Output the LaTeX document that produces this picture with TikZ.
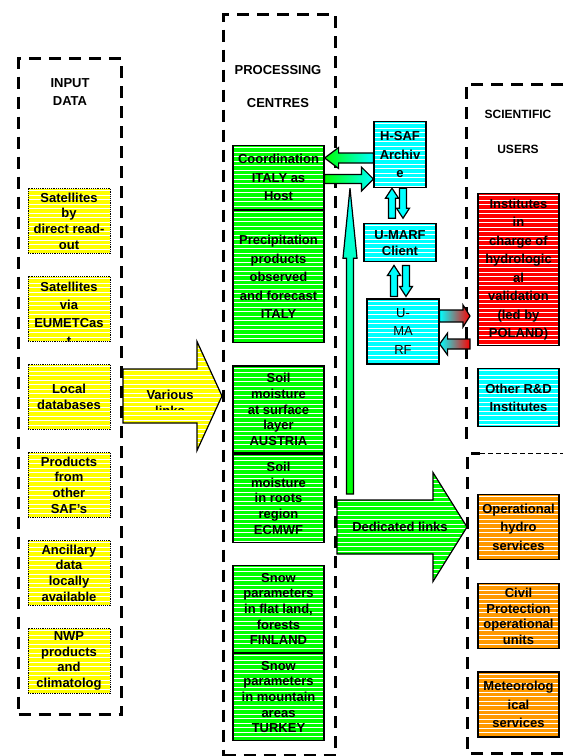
\documentclass[tikz,border=0pt]{standalone}
\usepackage{fontspec}
\setmainfont{Liberation Sans}
\usetikzlibrary{positioning,calc}

\definecolor{boxorange}{RGB}{255,153,0}
\definecolor{boxcyan}{RGB}{0,255,255}
\definecolor{boxgreen}{RGB}{0,255,0}
\definecolor{boxyellow}{RGB}{255,255,0}
\definecolor{boxred}{RGB}{255,0,0}

% white horizontal stripes inside a path picture
\newcommand\drawstripes{%
  \foreach \k in {0,...,36}
    \draw[white, solid, line width=1pt]
      ([yshift=-\k*4.5pt-2pt]path picture bounding box.north west) --
      ([yshift=-\k*4.5pt-2pt]path picture bounding box.north east);}

\tikzset{
  frame/.style={draw, line width=3pt, dash pattern=on 12pt off 8pt, inner sep=0pt},
  stripes/.style={path picture={\drawstripes}},
  tight/.style={font=\bfseries\fontsize{13}{15.7}\selectfont},
  loose/.style={font=\bfseries\fontsize{13}{18.5}\selectfont},
  title/.style={align=center, font=\bfseries\fontsize{13}{18}\selectfont},
  box/.style={draw, line width=1.2pt, stripes, align=center, inner sep=0pt, anchor=north},
  inbox/.style={box, fill=boxyellow, densely dotted, line width=1pt, minimum width=82pt, minimum height=65pt, tight},
  centre/.style={box, fill=boxgreen, minimum width=91pt, tight},
  archive/.style={box, fill=boxcyan, loose},
  science/.style={box, fill=boxred, minimum width=81pt, loose},
  operational/.style={box, fill=boxorange, minimum width=81pt, minimum height=65pt, tight},
  fatarrow/.style={draw=black, line width=1.2pt},
  clipped/.style={draw=none, fill=none, inner sep=0pt, align=center, anchor=center},
}

% block arrows: style, tail, tip, shaft half width, head half width, head length
\newcommand\fatharrow[6]{%
  \path[#1] let \p1=(#2), \p2=(#3) in
    ({\x1},{\y2+#4}) -- ({\x2-(#6)},{\y2+#4}) -- ({\x2-(#6)},{\y2+#5}) -- ({\x2},{\y2})
    -- ({\x2-(#6)},{\y2-#5}) -- ({\x2-(#6)},{\y2-#4}) -- ({\x1},{\y2-#4}) -- cycle;}
\newcommand\fatvarrow[6]{%
  \path[#1] let \p1=(#2), \p2=(#3) in
    ({\x2+#4},{\y1}) -- ({\x2+#4},{\y2-(#6)}) -- ({\x2+#5},{\y2-(#6)}) -- ({\x2},{\y2})
    -- ({\x2-#5},{\y2-(#6)}) -- ({\x2-#4},{\y2-(#6)}) -- ({\x2-#4},{\y1}) -- cycle;}

\begin{document}
\begin{tikzpicture}[x=1pt, y=-1pt, node distance=22pt]

\fill[white] (0,0) rectangle (563,756);
\useasboundingbox (0,0) rectangle (563,756);

% Input data
\node[frame, minimum width=103pt, minimum height=656pt, anchor=north west] (input) at (17,57) {};
\node[title] (input title) at (70,92) {INPUT\\DATA};
\node[inbox] (readout) at (69,188) {Satellites\\by\\direct read-\\out};
\node[inbox, below=of readout, path picture={\drawstripes
  \node[clipped, font=\bfseries\fontsize{13}{18}\selectfont] at ([yshift=-4.5pt]path picture bounding box.center) {Satellites\\via\\EUMETCas\\t};}] (eumetcast) {};
\node[inbox, below=of eumetcast] (local db) {Local\\databases};
\node[inbox, below=of local db] (other saf) {Products\\from\\other\\SAF's};
\node[inbox, below=of other saf] (ancillary) {Ancillary\\data\\locally\\available};
\node[inbox, below=of ancillary] (nwp) {NWP\\products\\and\\climatolog};

% Processing centres
\node[frame, minimum width=112pt, minimum height=741pt, anchor=north west] (processing) at (222,13) {};
\node[title, font=\bfseries\fontsize{13}{33}\selectfont] (processing title) at (278,86.5) {PROCESSING\\CENTRES};
\node[centre, loose, minimum height=64pt] (coordination) at (278.5,145) {Coordination\\ITALY as\\Host};
\node[centre, loose, minimum height=132pt, below=0pt of coordination] (precipitation) {Precipitation\\products\\observed\\and forecast\\ITALY};
\node[centre, minimum height=87pt, below=of precipitation] (soil surface) {Soil\\moisture\\at surface\\layer\\AUSTRIA};
\node[centre, minimum height=88pt, below=0pt of soil surface] (soil roots) {Soil\\moisture\\in roots\\region\\ECMWF};
\node[centre, minimum height=87pt, below=of soil roots] (snow flat) {Snow\\parameters\\in flat land,\\forests\\FINLAND};
\node[centre, minimum height=87pt, below=0pt of snow flat] (snow mountain) {Snow\\parameters\\in mountain\\areas\\TURKEY};

% Archive
\node[archive, minimum width=52pt, minimum height=66pt] (hsaf) at (400,121) {H-SAF\\Archiv\\e};
\node[archive, tight, minimum width=72pt, minimum height=38pt, below=35pt of hsaf] (client) {U-MARF\\Client};
\node[archive, font=\fontsize{13}{18.5}\selectfont, minimum width=72pt, minimum height=65pt, below=36pt of client, xshift=3pt] (umarf) {U-\\MA\\RF};

% Users
\draw[frame] (563,84) -- (466,84) -- (466,440);
\node[title, font=\bfseries\fontsize{12}{35}\selectfont] (science title) at (518,131.5) {SCIENTIFIC\\USERS};
\node[science, minimum height=152pt] (institutes) at (518.5,193) {Institutes\\in\\charge of\\hydrologic\\al\\validation\\(led by\\POLAND)};
\node[archive, minimum width=81pt, minimum height=58pt, below=of institutes] (other rd) {Other R\&D\\Institutes};

\draw[frame] (563,753) -- (467,753) -- (467,453) -- (480,453);
\draw[line width=1pt, dash pattern=on 5pt off 3pt] (480,453) -- (563,453);
\node[operational, loose] (hydro) at (518.5,494) {Operational\\hydro\\services};
\node[operational, below=23pt of hydro] (civil) {Civil\\Protection\\operational\\units};
\node[operational, loose, below=of civil] (meteo) {Meteorolog\\ical\\services};

% Arrows
\coordinate (various tip) at (processing.west |- 0,396);
\coordinate (dedicated tip) at (467,527);
\coordinate (to coordination) at (coordination.east |- 0,158);
\coordinate (to archive) at (hsaf.west |- 0,179);
\coordinate (uplink tail) at (350,494);
\coordinate (uplink tip) at (hsaf.south -| 350,0);
\coordinate (science in) at (470,316);
\coordinate (science out) at (470,344);

\fatharrow{fatarrow, fill=boxyellow, stripes}{input.east}{various tip}{27pt}{54.5pt}{25pt}
\begin{scope}
  \clip (120,342) rectangle (222,409);
  \node[clipped, font=\bfseries\fontsize{13}{16}\selectfont] (various) at (170,403) {Various\\links};
\end{scope}
\fatharrow{fatarrow, fill=boxgreen, stripes}{processing.east}{dedicated tip}{27pt}{54.5pt}{34pt}
\node[font=\bfseries\fontsize{13}{16}\selectfont] (dedicated) at (400,527) {Dedicated links};

\fatharrow{fatarrow, left color=boxgreen, right color=boxcyan}{hsaf.west}{to coordination}{5pt}{10.5pt}{-14pt}
\fatharrow{fatarrow, left color=boxgreen, right color=boxcyan}{coordination.east}{to archive}{4.5pt}{12pt}{12pt}
\fatvarrow{fatarrow, top color=boxcyan, bottom color=boxgreen}{uplink tail}{uplink tip}{3.5pt}{7pt}{70pt}

\fatvarrow{fatarrow, fill=boxcyan}{[yshift=5pt]client.north}{[xshift=-8pt]hsaf.south}{3.5pt}{6.5pt}{10pt}
\fatvarrow{fatarrow, fill=boxcyan}{[xshift=3pt]hsaf.south}{[xshift=3pt,yshift=5pt]client.north}{3.5pt}{6.5pt}{-10pt}
\fatvarrow{fatarrow, fill=boxcyan}{[xshift=-9pt,yshift=2pt]umarf.north}{[xshift=-6pt,yshift=-3pt]client.south}{3.5pt}{6.5pt}{10pt}
\fatvarrow{fatarrow, fill=boxcyan}{[xshift=6pt,yshift=-3pt]client.south}{[xshift=3pt,yshift=2pt]umarf.north}{3.5pt}{6.5pt}{-10pt}

\fatharrow{fatarrow, left color=boxcyan, right color=boxred}{umarf.east}{science in}{6pt}{11pt}{7pt}
\fatharrow{fatarrow, left color=boxcyan, right color=boxred}{science out}{umarf.east |- science out}{5pt}{11pt}{-8pt}

\end{tikzpicture}
\end{document}
